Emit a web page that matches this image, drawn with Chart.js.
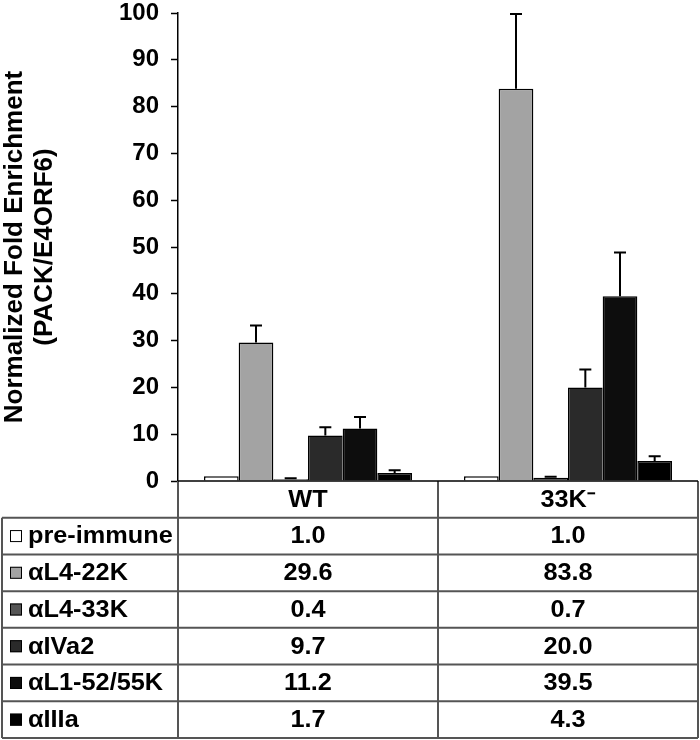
<!DOCTYPE html>
<html>
<head>
<meta charset="utf-8">
<script src="https://cdn.jsdelivr.net/npm/chart.js@4/dist/chart.umd.min.js"></script>
<style>
  body { margin: 0; background: #fff; }
  #wrap { width: 700px; height: 740px; }
</style>
</head>
<body>
<div id="wrap"><canvas id="bar-chart"></canvas></div>
<script>
// data
const categories = ['WT', '33K⁻'];
const seriesNames = ['pre-immune', 'αL4-22K', 'αL4-33K', 'αIVa2', 'αL1-52/55K', 'αIIIa'];
const preImmune = [1.0, 1.0];
const l4_22k = [29.6, 83.8];
const l4_33k = [0.4, 0.7];
const iva2 = [9.7, 20.0];
const l1_52k = [11.2, 39.5];
const iiia = [1.7, 4.3];
// error bar sizes (upper only)
const preImmuneErr = [0, 0];
const l4_22kErr = [3.6, 16.0];
const l4_33kErr = [0.2, 0.2];
const iva2Err = [1.8, 3.8];
const l1_52kErr = [2.5, 9.3];
const iiiaErr = [0.6, 1.0];
const yMin = 0, yMax = 100, yStep = 10;

let barColors = ['#ffffff', '#a3a3a3', '#555555', '#2a2a2a', '#0d0d0d', '#000000'];
const allValues = [preImmune, l4_22k, l4_33k, iva2, l1_52k, iiia];
const allErrors = [preImmuneErr, l4_22kErr, l4_33kErr, iva2Err, l1_52kErr, iiiaErr];
const FONT = '"Liberation Sans", Arial, sans-serif';

const errorBars = {
  id: 'errorBars',
  afterDatasetsDraw(chart) {
    const ctx = chart.ctx, y = chart.scales.y;
    ctx.save();
    ctx.strokeStyle = '#000';
    ctx.lineWidth = 2;
    chart.data.datasets.forEach((ds, i) => {
      const meta = chart.getDatasetMeta(i);
      ds.data.forEach((v, j) => {
        const e = allErrors[i][j];
        if (!e) return;
        const bar = meta.data[j];
        const yTop = y.getPixelForValue(v + e);
        ctx.beginPath();
        ctx.moveTo(bar.x, bar.y);
        ctx.lineTo(bar.x, yTop);
        ctx.moveTo(bar.x - 6, yTop);
        ctx.lineTo(bar.x + 6, yTop);
        ctx.stroke();
      });
    });
    ctx.restore();
  }
};

// draws text a bit wider, like the original figure
function wideText(ctx, str, x, y, align) {
  const sx = 1.1;
  ctx.save();
  ctx.translate(x, y);
  ctx.scale(sx, 1);
  ctx.textAlign = align;
  ctx.fillText(str, 0, 0);
  ctx.restore();
}

const dataTable = {
  id: 'dataTable',
  afterDraw(chart) {
    const ctx = chart.ctx, area = chart.chartArea, xs = chart.scales.x;
    const n = categories.length;
    const colW = (area.right - area.left) / n;
    const left = 2, top = area.bottom, bottom = chart.height - 2;
    const rowH = (bottom - top) / (seriesNames.length + 1);
    ctx.save();
    // grid
    ctx.strokeStyle = '#555';
    ctx.lineWidth = 2;
    ctx.beginPath();
    for (let r = 1; r <= seriesNames.length + 1; r++) {
      const yy = top + r * rowH;
      ctx.moveTo(left, yy); ctx.lineTo(area.right, yy);
    }
    ctx.moveTo(left, top + rowH); ctx.lineTo(left, bottom);
    for (let c = 0; c <= n; c++) {
      const xx = area.left + c * colW;
      ctx.moveTo(xx, top); ctx.lineTo(xx, bottom);
    }
    ctx.stroke();
    // axis line along the bottom of the plot
    ctx.strokeStyle = '#000';
    ctx.lineWidth = 1.5;
    ctx.beginPath();
    ctx.moveTo(area.left, top); ctx.lineTo(area.right, top);
    ctx.stroke();

    ctx.fillStyle = '#000';
    ctx.font = 'bold 23px ' + FONT;
    ctx.textBaseline = 'middle';
    categories.forEach((c, j) => {
      wideText(ctx, c, xs.getPixelForValue(j), top + rowH / 2 + 1, 'center');
    });
    seriesNames.forEach((name, i) => {
      const cy = top + (i + 1.5) * rowH;
      ctx.fillStyle = barColors[i];
      ctx.fillRect(10, cy - 6, 12, 12);
      ctx.strokeStyle = '#000';
      ctx.lineWidth = 1;
      ctx.strokeRect(10.5, cy - 5.5, 11, 11);
      ctx.fillStyle = '#000';
      wideText(ctx, name, 28, cy + 1, 'left');
      allValues[i].forEach((v, j) => {
        wideText(ctx, v.toFixed(1), xs.getPixelForValue(j), cy + 1, 'center');
      });
    });
    ctx.restore();
  }
};

let chart = new Chart(document.getElementById('bar-chart'), {
  type: 'bar',
  data: {
    labels: categories,
    datasets: seriesNames.map((name, i) => ({
      label: name,
      data: allValues[i],
      backgroundColor: barColors[i],
      borderColor: '#000',
      borderWidth: 1.5,
      categoryPercentage: 0.8,
      barPercentage: 1.0
    }))
  },
  options: {
    responsive: true,
    maintainAspectRatio: false,
    animation: false,
    layout: { padding: { top: 13, right: 2, bottom: 259, left: 0 } },
    plugins: {
      legend: { display: false },
      tooltip: { enabled: false }
    },
    scales: {
      x: { display: false },
      y: {
        min: yMin,
        max: yMax,
        afterFit: (axis) => {
          axis.width = 178;
          axis.paddingTop = 0;
          axis.paddingBottom = 0;
        },
        ticks: {
          stepSize: yStep,
          color: '#000',
          padding: 12,
          font: { family: FONT, size: 24, weight: 'bold' }
        },
        grid: { drawOnChartArea: false, tickLength: 7, tickColor: '#000', tickWidth: 1.5 },
        border: { display: true, color: '#000', width: 1.5 },
        title: {
          display: true,
          text: ['Normalized Fold Enrichment', '(PACK/E4ORF6)'],
          color: '#000',
          padding: { top: 0, bottom: 0 },
          font: { family: FONT, size: 26, weight: 'bold', lineHeight: 1.15 }
        }
      }
    }
  },
  plugins: [errorBars, dataTable]
});
</script>
</body>
</html>
